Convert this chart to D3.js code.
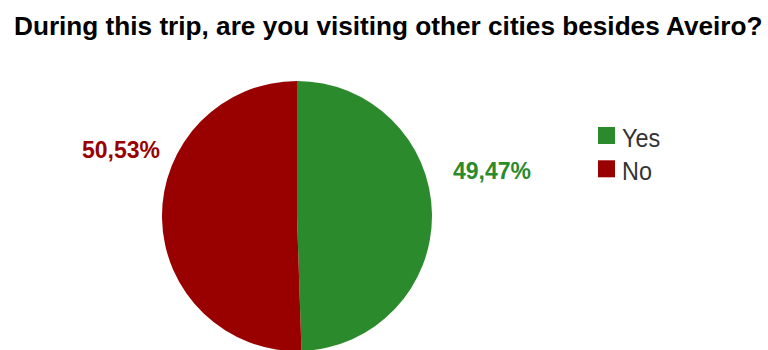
<!DOCTYPE html>
<html>
<head>
<meta charset="utf-8">
<script src="https://cdn.jsdelivr.net/npm/d3@7"></script>
<style>
  html, body { margin: 0; padding: 0; background: #fff; }
  svg { display: block; }
</style>
</head>
<body>
<svg id="chart" width="768" height="350"></svg>
<script>
// Survey answers and their shares (percent)
const categories = ["Yes", "No"];
const shares = [49.47, 50.53];
const colors = ["#2b8a2b", "#990000"];
const chartTitle = "During this trip, are you visiting other cities besides Aveiro?";

const svg = d3.select("#chart");

const cx = 297, cy = 216, radius = 135;

// Fit a text node horizontally into a given width by condensing its glyphs
function condenseTo(sel, x, y, targetWidth) {
  const w = sel.node().getComputedTextLength();
  const sx = targetWidth / w;
  sel.attr("transform", `translate(${x},${y}) scale(${sx},1)`);
}

// Title: tall bold face, condensed to span the header
const title = svg.append("text")
  .attr("x", 0)
  .attr("y", 0)
  .style("font-family", "'Liberation Sans', Arial, sans-serif")
  .style("font-weight", "bold")
  .style("font-size", "26.5px")
  .style("fill", "#000")
  .text(chartTitle);
condenseTo(title, 14, 35, 749);

const data = categories.map((c, i) => ({ name: c, value: shares[i], color: colors[i] }));

const pie = d3.pie().sort(null).value(d => d.value);
const arc = d3.arc().innerRadius(0).outerRadius(radius);
const arcs = pie(data);

const g = svg.append("g").attr("transform", `translate(${cx},${cy})`);
g.selectAll("path")
  .data(arcs)
  .join("path")
  .attr("d", arc)
  .attr("fill", d => d.data.color)
  .attr("stroke", "none");

// Percentage labels beside the pie, on the side of each slice
const fmt = v => v.toFixed(2).replace(".", ",") + "%";
const rightSide = d => Math.sin((d.startAngle + d.endAngle) / 2) >= 0;
svg.selectAll("text.pct")
  .data(arcs)
  .join("text")
  .attr("class", "pct")
  .attr("x", d => rightSide(d) ? cx + radius + 21 : cx - radius - 2)
  .attr("y", d => rightSide(d) ? 179 : 157.5)
  .attr("text-anchor", d => rightSide(d) ? "start" : "end")
  .style("font-family", "'Liberation Sans', Arial, sans-serif")
  .style("font-weight", "bold")
  .style("font-size", "23px")
  .style("fill", d => d.data.color)
  .text(d => fmt(d.data.value));

// Legend
const legend = svg.append("g").attr("transform", "translate(598,127)");
const items = legend.selectAll("g")
  .data(data)
  .join("g")
  .attr("transform", (d, i) => `translate(0,${i * 33.3})`);
items.append("rect")
  .attr("width", 17)
  .attr("height", 17)
  .attr("fill", d => d.color);
items.append("text")
  .attr("transform", "translate(24,19.5) scale(0.9,1)")
  .style("font-family", "'Liberation Sans', Arial, sans-serif")
  .style("font-size", "26px")
  .style("fill", "#333")
  .text(d => d.name);
</script>
</body>
</html>
